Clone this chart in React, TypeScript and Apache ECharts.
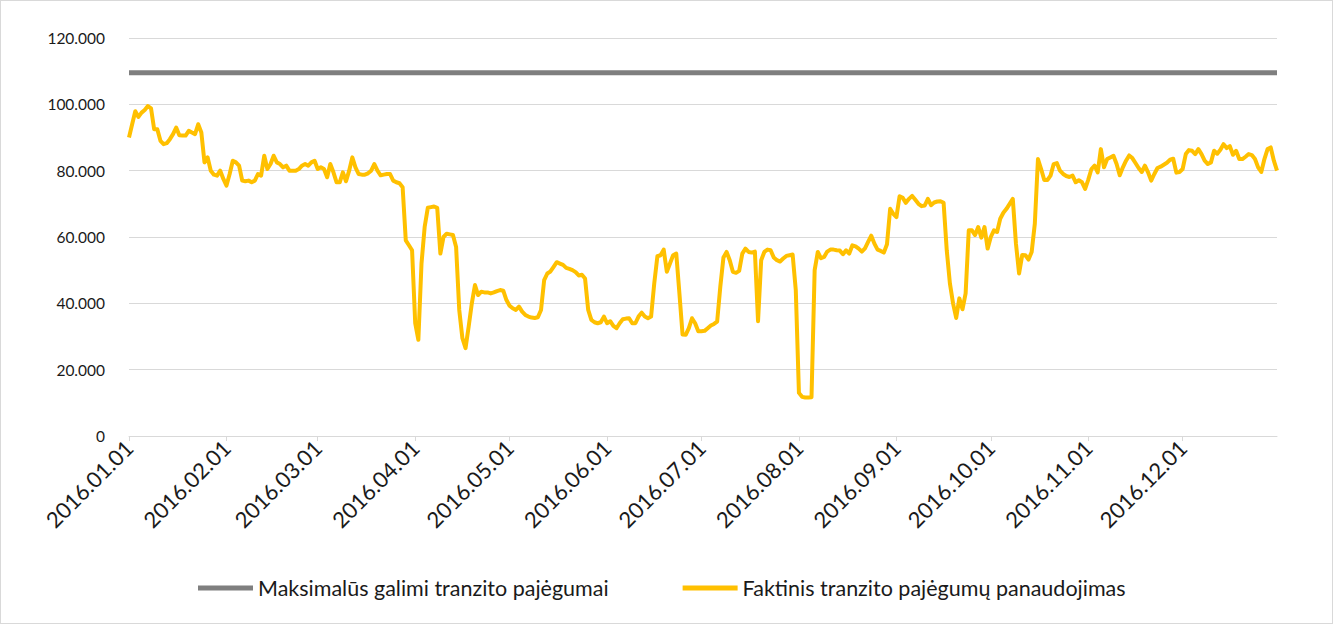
import React, { useEffect, useRef } from "react";
import * as echarts from "echarts";

// Daily values (thousands) for 2016, one array per month
const jan = [90, 94, 97.9, 96.2, 97.5, 98.3, 99.5, 98.8, 92.5, 92.5, 89, 88, 88.3, 89.5, 91, 93, 90.7, 90.6, 90.6, 92, 91.5, 91, 94, 91.5, 82.5, 84, 80, 78.8, 78.5, 80, 77.5];
const feb = [75.5, 79, 83, 82.5, 81.5, 77, 76.8, 77, 76.5, 77, 79, 78.5, 84.5, 80.5, 82, 84.5, 82.5, 82, 81, 81.5, 80, 80, 80, 80.5, 81.5, 82, 81.5, 82.5, 83];
const mar = [80.5, 81, 80.5, 78, 82, 79.5, 76.5, 76.5, 79.5, 76.8, 80, 84, 81, 79, 78.8, 78.8, 79.2, 80, 82, 80, 78.6, 78.8, 79, 79, 77, 76.5, 76.2, 75, 59, 57.5, 56];
const apr = [34, 29, 52, 63, 68.8, 69, 69.2, 68.8, 55, 60, 61, 60.8, 60.6, 57, 38, 29.5, 26.5, 33, 40, 45.5, 42.5, 43.5, 43.3, 43.3, 43, 43.3, 43.7, 44, 43.8, 41];
const may = [39.3, 38.5, 38, 39, 37.5, 36.5, 36, 35.7, 35.6, 35.8, 38, 47, 49, 49.6, 51, 52.4, 52, 51.6, 50.7, 50.4, 50, 49.4, 48.4, 48.6, 47.5, 38, 35, 34.3, 34, 34.3, 36];
const jun = [34, 34.6, 33.2, 32.5, 34, 35.2, 35.4, 35.5, 34, 34, 36, 37.2, 36, 35.5, 36, 46, 54.2, 54.5, 56.2, 49.5, 52, 54.5, 55, 43, 30.6, 30.5, 32.5, 35.5, 34, 31.6];
const jul = [31.6, 31.7, 32.5, 33.3, 33.8, 34.5, 45, 53.8, 55.5, 53, 49.5, 49.2, 49.8, 55, 56.5, 55.5, 55.3, 55.6, 34.6, 53, 55.5, 56.2, 56, 53.8, 53, 52.6, 53.5, 54.3, 54.5, 54.7, 44];
const aug = [13, 11.8, 11.6, 11.6, 11.7, 50, 55.5, 53.6, 54, 55.6, 56.2, 56.2, 56, 55.9, 54.8, 56, 55, 57.5, 57.2, 56.5, 55.6, 56.6, 58.5, 60.4, 58, 56.2, 55.8, 55.3, 57.8, 68.5, 67];
const sep = [66, 72.3, 71.8, 70.3, 71.5, 72.4, 71.2, 70, 69.3, 69.5, 71.5, 69.6, 70.4, 70.7, 70.8, 70.3, 56, 46, 40, 35.6, 41.5, 38.2, 43, 62, 62, 60.6, 63, 59.8, 63, 56.5];
const oct = [60, 62, 61.5, 65.5, 67.3, 68.5, 70, 71.5, 58, 49, 54.6, 54.5, 53.2, 55.5, 64, 83.5, 80.5, 77.2, 77.2, 78.5, 82, 82.3, 80, 79, 78.4, 78.1, 78.5, 76.5, 77.1, 76.5, 74.5];
const nov = [77.3, 80.5, 81.5, 79.5, 86.5, 81, 83.5, 84, 84.5, 82, 78.6, 81, 83, 84.6, 83.8, 82.3, 80.8, 79.6, 81.5, 79.5, 77, 79, 80.8, 81.2, 81.8, 82.4, 83.3, 83.6, 79.4, 79.6];
const dec = [80.5, 85, 86.2, 86, 85, 86.5, 85, 83, 82, 82.5, 86, 85.1, 86.3, 88, 86.8, 87.4, 84.8, 86, 83.5, 83.5, 84.2, 85, 84.7, 83.5, 81, 79.6, 83.5, 86.5, 87, 83, 80];

const MAX_CAPACITY = 109.5;
const SERIES_MAX = "Maksimalūs galimi tranzito pajėgumai";
const SERIES_ACTUAL = "Faktinis tranzito pajėgumų panaudojimas";
const Y_MIN = 0;
const Y_MAX = 120;
const Y_STEP = 20;

const actual = [...jan, ...feb, ...mar, ...apr, ...may, ...jun, ...jul, ...aug, ...sep, ...oct, ...nov, ...dec];

function buildDates(year: number): string[] {
  const out: string[] = [];
  const d = new Date(Date.UTC(year, 0, 1));
  while (d.getUTCFullYear() === year) {
    const m = String(d.getUTCMonth() + 1).padStart(2, "0");
    const day = String(d.getUTCDate()).padStart(2, "0");
    out.push(`${year}.${m}.${day}`);
    d.setUTCDate(d.getUTCDate() + 1);
  }
  return out;
}

const dates = buildDates(2016);

const FONT = "Lato, 'Noto Sans', sans-serif";
const TEXT_COLOR = "#1a1a1a";

export default function App() {
  const ref = useRef<HTMLDivElement>(null);
  useEffect(() => {
    if (!ref.current) return;
    const chart = echarts.init(ref.current, undefined, { renderer: "svg" });
    const isMonthStart = (_i: number, v: string) => v.endsWith(".01");
    chart.setOption({
      animation: false,
      textStyle: { fontFamily: FONT },
      grid: { left: 128, right: 55, top: 37, bottom: 187, containLabel: false },
      legend: {
        left: 192,
        top: 571,
        itemWidth: 55,
        itemHeight: 5,
        itemGap: 74,
        icon: "rect",
        textStyle: { fontSize: 21.5, color: TEXT_COLOR, fontFamily: FONT },
        data: [SERIES_MAX, SERIES_ACTUAL],
      },
      xAxis: {
        type: "category",
        boundaryGap: false,
        data: dates,
        axisLine: { lineStyle: { color: "#d9d9d9", width: 1 } },
        axisTick: { show: true, interval: isMonthStart, length: 5, lineStyle: { color: "#d9d9d9" } },
        axisLabel: {
          interval: isMonthStart,
          rotate: 45,
          fontSize: 22,
          color: TEXT_COLOR,
          margin: 8,
          fontFamily: FONT,
        },
        splitLine: { show: false },
      },
      yAxis: {
        type: "value",
        min: Y_MIN,
        max: Y_MAX,
        interval: Y_STEP,
        axisLine: { show: false },
        axisTick: { show: false },
        splitLine: { lineStyle: { color: "#d9d9d9", width: 1 } },
        axisLabel: {
          fontSize: 15.5,
          color: TEXT_COLOR,
          margin: 24,
          fontFamily: FONT,
          formatter: (v: number) => (v === 0 ? "0" : v.toFixed(3)),
        },
      },
      series: [
        {
          name: SERIES_MAX,
          type: "line",
          symbol: "none",
          data: [
            [dates[0], MAX_CAPACITY],
            [dates[dates.length - 1], MAX_CAPACITY],
          ],
          lineStyle: { color: "#7f7f7f", width: 5 },
          itemStyle: { color: "#7f7f7f" },
        },
        {
          name: SERIES_ACTUAL,
          type: "line",
          symbol: "none",
          data: actual,
          lineStyle: { color: "#ffc000", width: 4, join: "round" },
          itemStyle: { color: "#ffc000" },
        },
      ],
    });
    return () => chart.dispose();
  }, []);
  return (
    <div
      style={{
        position: "fixed",
        left: 0,
        top: 0,
        width: 1333,
        height: 624,
        boxSizing: "border-box",
        border: "1px solid #d9d9d9",
        background: "#fff",
      }}
    >
      <div ref={ref} style={{ width: 1331, height: 622 }} />
    </div>
  );
}
